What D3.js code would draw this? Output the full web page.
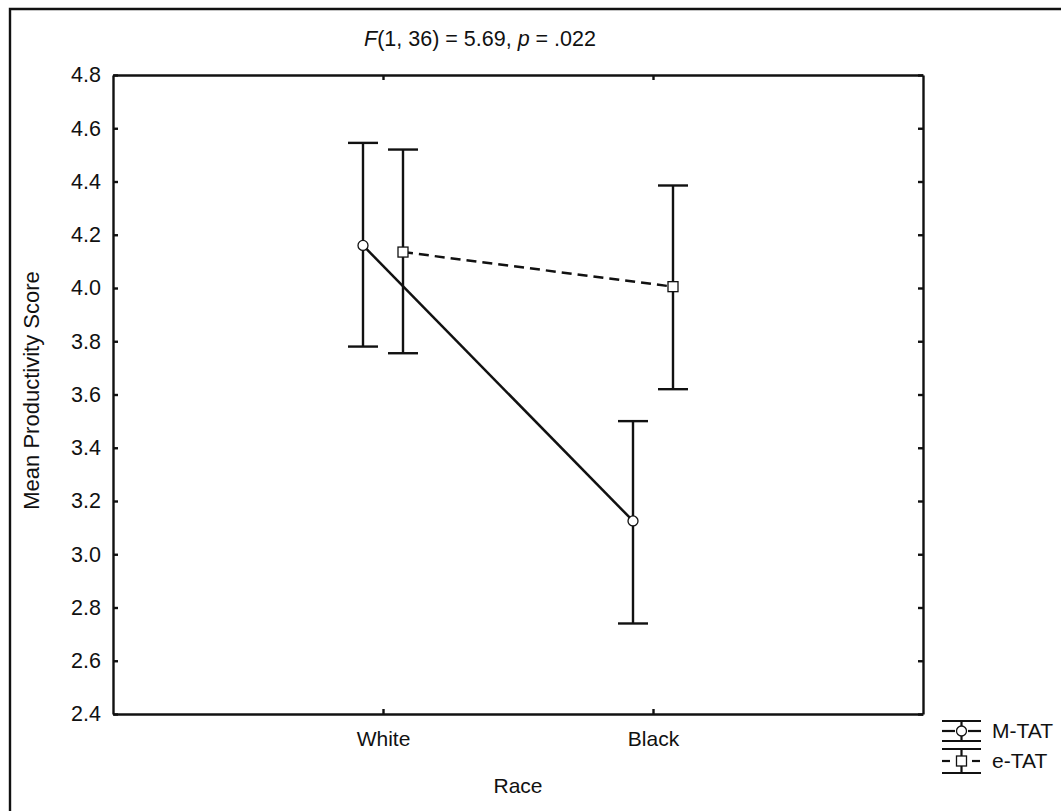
<!DOCTYPE html>
<meta charset="UTF-8">
<style>
body { margin: 0; background: #fff; }
text { font-family: "Liberation Sans", Arial, sans-serif; fill: #111; }
.axis path, .axis line { stroke: #111; stroke-width: 2.4px; }
</style>
<body>
<script src="https://d3js.org/d3.v7.min.js"></script>
<script>

// data
var categories = ["White", "Black"];
var series = ["M-TAT", "e-TAT"];
var meanM  = [4.16, 3.125];
var upperM = [4.545, 3.50];
var lowerM = [3.78, 2.74];
var meanE  = [4.135, 4.005];
var upperE = [4.52, 4.385];
var lowerE = [3.755, 3.62];
var yTicks = [2.4, 2.6, 2.8, 3.0, 3.2, 3.4, 3.6, 3.8, 4.0, 4.2, 4.4, 4.6, 4.8];

var W = 1061, H = 811;
var margin = {top: 75, right: 138, bottom: 97, left: 113},
    width = W - margin.left - margin.right,
    height = H - margin.top - margin.bottom;

var svg = d3.select("body").append("svg")
    .attr("width", W)
    .attr("height", H);

// outer frame (only top and left edges are in the picture)
svg.append("path")
    .attr("d", "M10," + H + " L10,9 L" + W + ",9")
    .attr("fill", "none")
    .attr("stroke", "#111")
    .attr("stroke-width", 2.4);

var g = svg.append("g")
    .attr("transform", "translate(" + margin.left + "," + margin.top + ")");

var x = d3.scalePoint().domain(categories).range([0, width]).padding(1);
var off = d3.scalePoint().domain(series).range([-20, 20]);
var y = d3.scaleLinear().domain([2.4, 4.8]).range([height, 0]);

// axes with inward ticks
var yLeft = g.append("g").attr("class", "axis")
    .call(d3.axisLeft(y).tickValues(yTicks).tickSizeInner(-5).tickSizeOuter(0).tickPadding(12)
      .tickFormat(d3.format(".1f")));
yLeft.selectAll("text").style("font-size", "21.5px");

g.append("g").attr("class", "axis")
    .attr("transform", "translate(" + width + ",0)")
    .call(d3.axisRight(y).tickValues(yTicks).tickSizeInner(-5).tickSizeOuter(0).tickFormat(""));

var xBottom = g.append("g").attr("class", "axis")
    .attr("transform", "translate(0," + height + ")")
    .call(d3.axisBottom(x).tickSizeInner(-5).tickSizeOuter(0).tickPadding(17));
xBottom.selectAll("text").style("font-size", "21px");

g.append("g").attr("class", "axis")
    .call(d3.axisTop(x).tickSizeInner(-5).tickSizeOuter(0).tickFormat(""));

// axis titles
g.append("text")
    .attr("x", width / 2)
    .attr("y", height + 79)
    .attr("text-anchor", "middle")
    .style("font-size", "21px")
    .text("Race");

g.append("text")
    .attr("transform", "translate(-74," + (height / 2 - 4) + ") rotate(-90)")
    .attr("text-anchor", "middle")
    .style("font-size", "22px")
    .text("Mean Productivity Score");

// title
var title = svg.append("text")
    .attr("x", 480)
    .attr("y", 46)
    .attr("text-anchor", "middle")
    .style("font-size", "21.5px");
title.append("tspan").style("font-style", "italic").text("F");
title.append("tspan").text("(1, 36) = 5.69, ");
title.append("tspan").style("font-style", "italic").text("p");
title.append("tspan").text(" = .022");

// series rows
var rows = [
  {name: "M-TAT", mean: meanM, upper: upperM, lower: lowerM, dash: null, shape: "circle"},
  {name: "e-TAT", mean: meanE, upper: upperE, lower: lowerE, dash: "10,6", shape: "square"}
];

var cap = 15;

rows.forEach(function(s) {
  var pts = categories.map(function(c, i) {
    return {cx: x(c) + off(s.name), m: s.mean[i], hi: s.upper[i], lo: s.lower[i]};
  });

  // error bars
  var eb = g.append("g").selectAll("g").data(pts).enter().append("g")
      .attr("stroke", "#111").attr("stroke-width", 2.4);
  eb.append("line")
      .attr("x1", function(d) { return d.cx; }).attr("x2", function(d) { return d.cx; })
      .attr("y1", function(d) { return y(d.hi); }).attr("y2", function(d) { return y(d.lo); });
  eb.append("line")
      .attr("x1", function(d) { return d.cx - cap; }).attr("x2", function(d) { return d.cx + cap; })
      .attr("y1", function(d) { return y(d.hi); }).attr("y2", function(d) { return y(d.hi); });
  eb.append("line")
      .attr("x1", function(d) { return d.cx - cap; }).attr("x2", function(d) { return d.cx + cap; })
      .attr("y1", function(d) { return y(d.lo); }).attr("y2", function(d) { return y(d.lo); });

  // mean line
  g.append("path")
      .datum(pts)
      .attr("fill", "none")
      .attr("stroke", "#111")
      .attr("stroke-width", 2.5)
      .attr("stroke-dasharray", s.dash)
      .attr("d", d3.line().x(function(d) { return d.cx; }).y(function(d) { return y(d.m); }));
});

// markers on top
rows.forEach(function(s) {
  var pts = categories.map(function(c, i) { return {cx: x(c) + off(s.name), m: s.mean[i]}; });
  if (s.shape === "circle") {
    g.append("g").selectAll("circle").data(pts).enter().append("circle")
        .attr("cx", function(d) { return d.cx; })
        .attr("cy", function(d) { return y(d.m); })
        .attr("r", 5)
        .attr("fill", "#fff").attr("stroke", "#111").attr("stroke-width", 1.3);
  } else {
    g.append("g").selectAll("rect").data(pts).enter().append("rect")
        .attr("x", function(d) { return d.cx - 5; })
        .attr("y", function(d) { return y(d.m) - 5; })
        .attr("width", 10).attr("height", 10)
        .attr("fill", "#fff").attr("stroke", "#111").attr("stroke-width", 1.3);
  }
});

// legend
var lg = svg.append("g").attr("transform", "translate(942,721)");
var lw = 39, lc = lw / 2;
rows.forEach(function(s, i) {
  var oy = i * 28;
  var item = lg.append("g").attr("transform", "translate(0," + oy + ")")
      .attr("stroke", "#111").attr("stroke-width", 2.2);
  item.append("line").attr("x1", 0).attr("x2", lw).attr("y1", 0).attr("y2", 0);
  item.append("line").attr("x1", 0).attr("x2", lw).attr("y1", 20 + i * 4).attr("y2", 20 + i * 4);
  item.append("line").attr("x1", lc).attr("x2", lc).attr("y1", 0).attr("y2", 20 + i * 4);
  var my = 10 + i * 2;
  if (s.shape === "circle") {
    item.append("line").attr("x1", 0).attr("x2", 13).attr("y1", my).attr("y2", my);
    item.append("line").attr("x1", 26).attr("x2", lw).attr("y1", my).attr("y2", my);
    item.append("circle").attr("cx", lc).attr("cy", my).attr("r", 5)
        .attr("fill", "#fff").attr("stroke-width", 1.3);
  } else {
    item.append("line").attr("x1", 0).attr("x2", 8).attr("y1", my).attr("y2", my);
    item.append("line").attr("x1", 30).attr("x2", 38).attr("y1", my).attr("y2", my);
    item.append("rect").attr("x", lc - 5).attr("y", my - 5).attr("width", 10).attr("height", 10)
        .attr("fill", "#fff").attr("stroke-width", 1.3);
  }
  lg.append("text")
      .attr("x", 50)
      .attr("y", oy + my + 7)
      .style("font-size", "21px")
      .text(s.name);
});

</script>
</body>
